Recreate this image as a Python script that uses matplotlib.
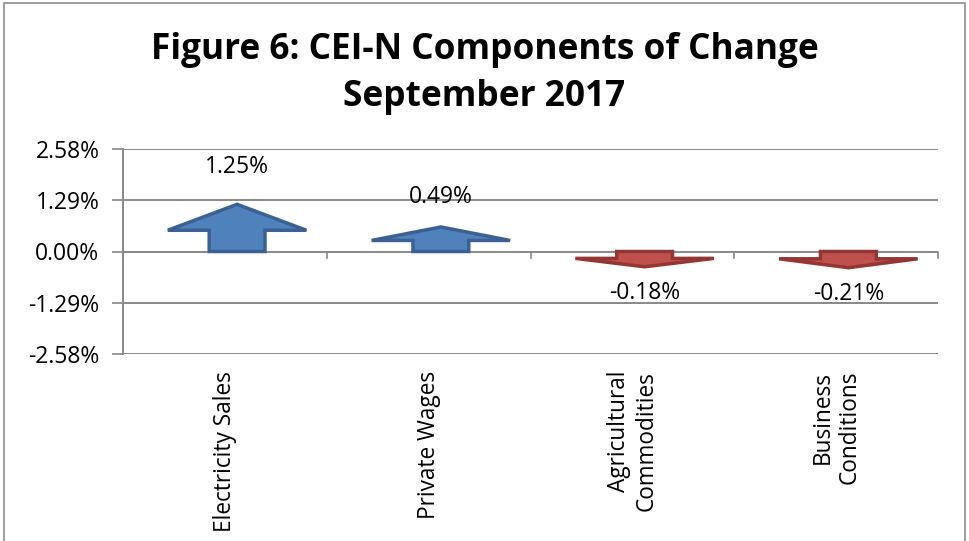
import matplotlib
matplotlib.use("Agg")
import matplotlib.pyplot as plt
from matplotlib.patches import Polygon, Rectangle

categories = ["Electricity Sales", "Private Wages", "Agricultural\nCommodities", "Business\nConditions"]
values = [1.25, 0.49, -0.18, -0.21]
label_texts = ["1.25%", "0.49%", "-0.18%", "-0.21%"]
yticks = [-2.58, -1.29, 0.0, 1.29, 2.58]
ytick_labels = ["-2.58%", "-1.29%", "0.00%", "1.29%", "2.58%"]

FONT = "Open Sans"
plt.rcParams["font.family"] = [FONT, "DejaVu Sans"]

fig = plt.figure(figsize=(9.69, 5.41), dpi=100)
fig.patch.set_facecolor("white")

# outer chart frame
fig.add_artist(Rectangle((4 / 969, -0.02), 961 / 969, 1 - 3 / 541 + 0.02,
                         transform=fig.transFigure, fill=False,
                         edgecolor="#8c8c8c", linewidth=1.2))

fig.text(0.5, 1 - 50 / 541, "Figure 6: CEI-N Components of Change",
         ha="center", va="center", fontsize=25.4, fontweight="bold")
fig.text(0.5, 1 - 97 / 541, "September 2017",
         ha="center", va="center", fontsize=25.4, fontweight="bold")

ax = fig.add_axes([123 / 969, 1 - 354 / 541, (938 - 123) / 969, (354 - 149) / 541])
n = len(categories)
ax.set_xlim(-0.5, n - 0.5)
ax.set_ylim(yticks[0], yticks[-1])

grid_c = "#888888"
for t in yticks:
    ax.axhline(t, color=grid_c, linewidth=1.4, zorder=1)
for s in ["top", "right", "bottom"]:
    ax.spines[s].set_visible(False)
ax.spines["left"].set_color(grid_c)
ax.spines["left"].set_linewidth(1.4)

ax.set_yticks(yticks)
ax.set_yticklabels(ytick_labels, fontsize=16.5)
ax.tick_params(axis="y", length=8, width=1.2, color=grid_c, pad=9)

ax.set_xticks(range(n))
ax.set_xticklabels(categories, rotation=90, fontsize=16.3, va="top", ha="center",
                   multialignment="right")
ax.tick_params(axis="x", length=0, pad=12)

# category boundary tick marks on the zero line
for b in range(n + 1):
    ax.plot([b - 0.5, b - 0.5], [0, -0.16], color=grid_c, linewidth=1.2, zorder=2,
            clip_on=False)

offset = 0.06
stem_hw = 0.137
head_hw = 0.34
for i, v in enumerate(values):
    c = i + offset
    sign = 1 if v >= 0 else -1
    L = v * 0.75 + sign * 0.25
    h = 0.55 * L
    verts = [(c - stem_hw, 0), (c + stem_hw, 0), (c + stem_hw, L - h),
             (c + head_hw, L - h), (c, L), (c - head_hw, L - h), (c - stem_hw, L - h)]
    if v >= 0:
        fc, ec = "#4F81BD", "#3B6193"
    else:
        fc, ec = "#C0504D", "#943634"
    ax.add_patch(Polygon(verts, closed=True, facecolor=fc, edgecolor=ec,
                         linewidth=2.5, joinstyle="miter", zorder=3))
    ax.text(c, v + sign * 0.87, label_texts[i], ha="center", va="center",
            fontsize=16.5, zorder=4)

fig.savefig("out.png", dpi=100, facecolor="white")
